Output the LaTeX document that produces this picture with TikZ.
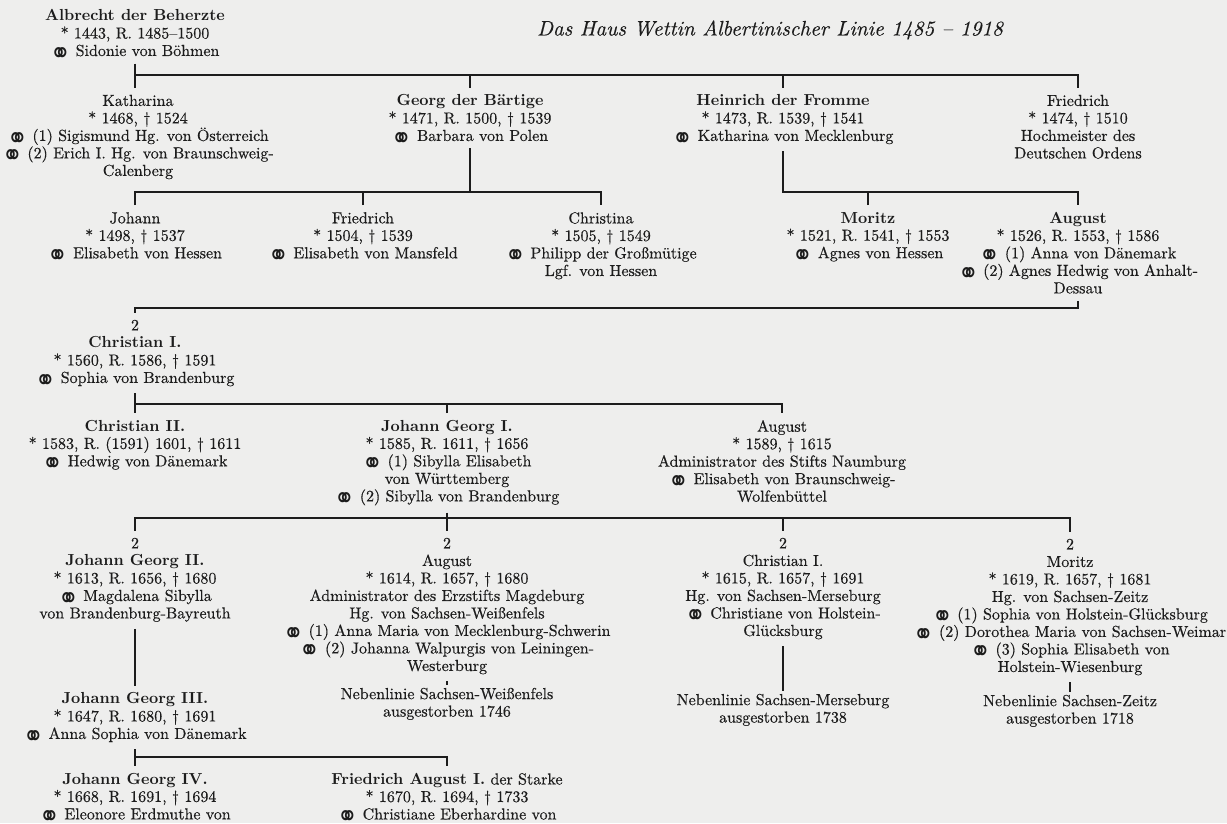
\documentclass[tikz,border=0pt]{standalone}
\usepackage{fontspec}
\setmainfont{lmroman10}[Extension=.otf, UprightFont=*-regular, BoldFont=*-bold, ItalicFont=*-italic, BoldItalicFont=*-bolditalic, UprightFeatures={FakeBold=0.4}, ItalicFeatures={FakeBold=0.3}]
\newfontfamily\symfont{DejaVu Sans}
\newcommand{\mar}{\smash{\raisebox{-7.4pt}{\scalebox{1.12}[1.35]{\symfont\fontsize{22}{17.5}\selectfont ⚭}}}\hspace{4.5pt}}
\newcommand{\bo}{{*}\ }
\definecolor{ink}{RGB}{28,28,28}
\definecolor{bgpaper}{RGB}{238,238,237}
\tikzset{
  person/.style={align=center, anchor=north, inner xsep=0pt, inner ysep=7pt,
    text=ink, font=\fontsize{16}{17.5}\selectfont},
  extinct/.style={person, inner ysep=3pt},
  titlestyle/.style={text=ink, font=\itshape\fontsize{21}{24}\selectfont, inner sep=0pt},
  link/.style={draw=ink, line width=1.1pt}
}
\begin{document}
\begin{tikzpicture}[x=1pt,y=-1pt]
\fill[bgpaper] (0,0) rectangle (1227,823);
\useasboundingbox (0,0) rectangle (1227,823);
% bus heights
\coordinate (bA) at (0,75);
\coordinate (bB) at (0,192);
\coordinate (bC) at (0,308);
\coordinate (bD) at (0,404);
\coordinate (bE) at (0,518);
\coordinate (bF) at (0,757);

\node[titlestyle] (title) at (770,30) {Das Haus Wettin Albertinischer Linie 1485 – 1918};

\node[person] (alb) at (135,2.6) {\textbf{Albrecht der Beherzte}\\\bo 1443, R. 1485–1500\\\mar Sidonie von Böhmen};

\node[person] (kat) at (138,87.6) {Katharina\\\bo 1468, † 1524\\\mar (1) Sigismund Hg. von Österreich\\\mar (2) Erich I. Hg. von Braunschweig-\\Calenberg};
\node[person] (geo) at (470,87.6) {\textbf{Georg der Bärtige}\\\bo 1471, R. 1500, † 1539\\\mar Barbara von Polen};
\node[person] (hei) at (783,87.6) {\textbf{Heinrich der Fromme}\\\bo 1473, R. 1539, † 1541\\\mar Katharina von Mecklenburg};
\node[person] (fri1) at (1078,87.6) {Friedrich\\\bo 1474, † 1510\\Hochmeister des\\Deutschen Ordens};

\node[person] (joh) at (135,205) {Johann\\\bo 1498, † 1537\\\mar Elisabeth von Hessen};
\node[person] (fri2) at (363,205) {Friedrich\\\bo 1504, † 1539\\\mar Elisabeth von Mansfeld};
\node[person] (chr) at (601,205) {Christina\\\bo 1505, † 1549\\\mar Philipp der Großmütige\\Lgf. von Hessen};
\node[person] (mor1) at (868,205) {\textbf{Moritz}\\\bo 1521, R. 1541, † 1553\\\mar Agnes von Hessen};
\node[person] (aug1) at (1078,205) {\textbf{August}\\\bo 1526, R. 1553, † 1586\\\mar (1) Anna von Dänemark\\\mar (2) Agnes Hedwig von Anhalt-\\Dessau};

\node[person] (chr1) at (135,312.6) {2\\\textbf{Christian I.}\\\bo 1560, R. 1586, † 1591\\\mar Sophia von Brandenburg};

\node[person] (chr2) at (135,413) {\textbf{Christian II.}\\\bo 1583, R. (1591) 1601, † 1611\\\mar Hedwig von Dänemark};
\node[person] (jg1) at (447,413) {\textbf{Johann Georg I.}\\\bo 1585, R. 1611, † 1656\\\mar (1) Sibylla Elisabeth\\von Württemberg\\\mar (2) Sibylla von Brandenburg};
\node[person] (aug2) at (782,413) {August\\\bo 1589, † 1615\\Administrator des Stifts Naumburg\\\mar Elisabeth von Braunschweig-\\Wolfenbüttel};

\node[person] (jg2) at (135,530.6) {2\\\textbf{Johann Georg II.}\\\bo 1613, R. 1656, † 1680\\\mar Magdalena Sibylla\\von Brandenburg-Bayreuth};
\node[person] (aug3) at (447,530.6) {2\\August\\\bo 1614, R. 1657, † 1680\\Administrator des Erzstifts Magdeburg\\Hg. von Sachsen-Weißenfels\\\mar (1) Anna Maria von Mecklenburg-Schwerin\\\mar (2) Johanna Walpurgis von Leiningen-\\Westerburg};
\node[person] (chr3) at (783,530.6) {2\\Christian I.\\\bo 1615, R. 1657, † 1691\\Hg. von Sachsen-Merseburg\\\mar Christiane von Holstein-\\Glücksburg};
\node[person] (mor2) at (1070,531.6) {2\\Moritz\\\bo 1619, R. 1657, † 1681\\Hg. von Sachsen-Zeitz\\\mar (1) Sophia von Holstein-Glücksburg\\\mar (2) Dorothea Maria von Sachsen-Weimar\\\mar (3) Sophia Elisabeth von\\Holstein-Wiesenburg};

\node[extinct] (neb1) at (447,684.6) {Nebenlinie Sachsen-Weißenfels\\ausgestorben 1746};
\node[extinct] (neb2) at (783,690.6) {Nebenlinie Sachsen-Merseburg\\ausgestorben 1738};
\node[extinct] (neb3) at (1070,691.6) {Nebenlinie Sachsen-Zeitz\\ausgestorben 1718};

\node[person] (jg3) at (135,685.6) {\textbf{Johann Georg III.}\\\bo 1647, R. 1680, † 1691\\\mar Anna Sophia von Dänemark};
\node[person] (jg4) at (135,766) {\textbf{Johann Georg IV.}\\\bo 1668, R. 1691, † 1694\\\mar Eleonore Erdmuthe von};
\node[person] (fa1) at (447,766) {\textbf{Friedrich August I.} der Starke\\\bo 1670, R. 1694, † 1733\\\mar Christiane Eberhardine von};

% connectors
\draw[link] (alb.south) -- (alb.south |- kat.north);
\draw[link] (alb.south |- bA) -| (fri1.north);
\draw[link] (geo.north) -- (geo.north |- bA);
\draw[link] (hei.north) -- (hei.north |- bA);

\draw[link] (geo.south) -- (geo.south |- bB);
\draw[link] (joh.north) -- (joh.north |- bB) -| (chr.north);
\draw[link] (fri2.north) -- (fri2.north |- bB);
\draw[link] (hei.south) -- (hei.south |- bB) -| (aug1.north);
\draw[link] (mor1.north) -- (mor1.north |- bB);

\draw[link] (aug1.south) -- (aug1.south |- bC) -| (chr1.north);

\draw[link] (chr1.south) -- (chr2.north);
\draw[link] (chr1.south |- bD) -| (aug2.north);
\draw[link] (jg1.north) -- (jg1.north |- bD);

\draw[link] (jg1.south) -- (aug3.north);
\draw[link] (jg2.north) -- (jg2.north |- bE) -| (mor2.north);
\draw[link] (chr3.north) -- (chr3.north |- bE);

\draw[link] (aug3.south) -- (neb1.north);
\draw[link] (chr3.south) -- (neb2.north);
\draw[link] (mor2.south) -- (neb3.north);

\draw[link] (jg2.south) -- (jg3.north);
\draw[link] (jg3.south) -- (jg4.north);
\draw[link] (jg3.south |- bF) -| (fa1.north);
\end{tikzpicture}
\end{document}
